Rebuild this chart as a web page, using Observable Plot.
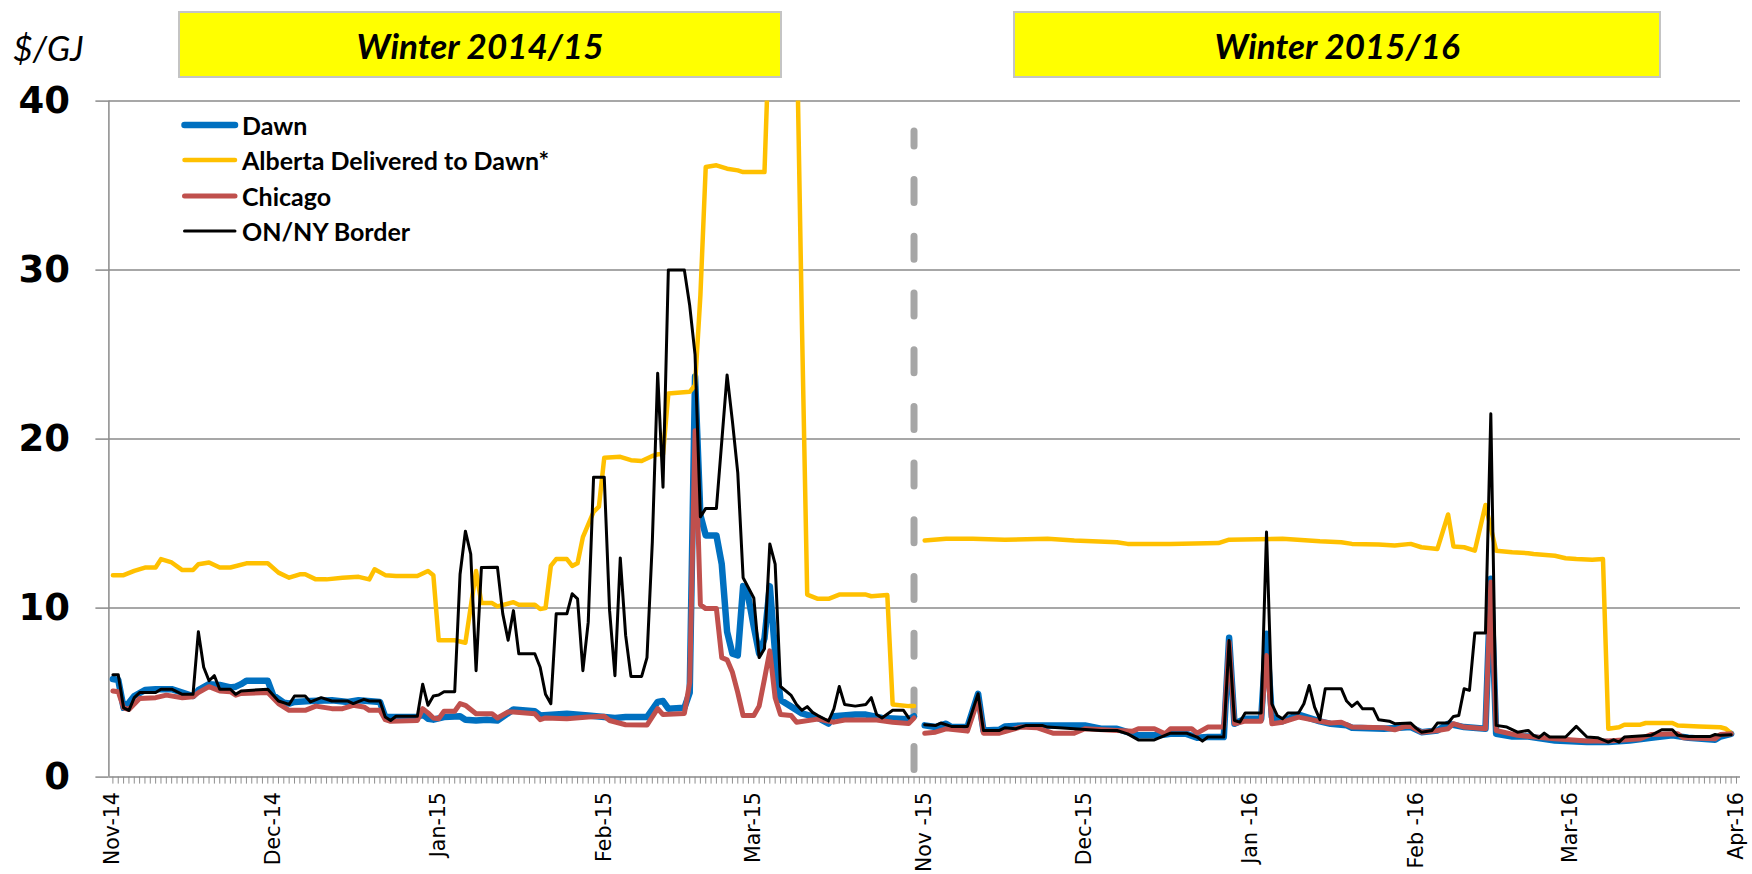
<!DOCTYPE html>
<html><head><meta charset="utf-8">
<script src="https://cdn.jsdelivr.net/npm/d3@7"></script>
<script src="https://cdn.jsdelivr.net/npm/@observablehq/plot@0.6"></script>
<style>
html,body{margin:0;padding:0;background:#fff;}
#wrap{position:relative;width:1752px;height:874px;overflow:hidden;}
#chart svg{display:block;}
.box{position:absolute;top:11px;height:67px;background:#ffff00;border:2px solid #c4c4c4;box-sizing:border-box;display:flex;align-items:center;justify-content:center;font:italic 700 35px Lato, sans-serif;color:#000;}
.unit{position:absolute;left:13px;top:31px;font:italic 400 34px Lato,sans-serif;line-height:1;color:#000;}
.legend{position:absolute;left:180px;top:107px;font:700 25px Lato,sans-serif;color:#000;}
.row{display:flex;align-items:center;height:35.5px;}
.row svg{display:block;margin-right:2px;}
</style></head><body><div id="wrap"><div id="chart"></div></div>
<script>
// ---- Data: [days since Nov 1 of each winter, $/GJ] ----
const winterTitles = ["Winter 2014/15", "Winter 2015/16"];
const seriesNames = ["Dawn", "Alberta Delivered to Dawn*", "Chicago", "ON/NY Border"];
const tickOffsets = [0, 30, 61, 92, 120, 152, 182, 213, 244, 273, 304];
const tickLabels = ["Nov-14", "Dec-14", "Jan-15", "Feb-15", "Mar-15", "Nov -15", "Dec-15", "Jan -16", "Feb -16", "Mar-16", "Apr-16"];
const yTicks = [0, 10, 20, 30, 40];
const winter1Days = 151;   // Nov 1 2014 .. Mar 31 2015
const winter2Start = 152;  // category index of Nov 1 2015
const categoryCount = 305;

const dawnW1 = [[0,5.8],[1,5.75],[2,4.1],[3,4.4],[4,4.8],[6,5.15],[8,5.2],[11,5.2],[13,5.0],[15,4.8],[16,5.15],[18,5.5],[20,5.45],[22,5.3],[23,5.35],[24,5.5],[25,5.7],[29,5.7],[30,4.85],[32,4.4],[33,4.35],[34,4.45],[37,4.5],[41,4.55],[44,4.45],[46,4.55],[50,4.45],[51,3.55],[57,3.55],[58,3.7],[59,3.45],[60,3.4],[62,3.55],[65,3.6],[66,3.4],[68,3.35],[70,3.4],[72,3.35],[75,4.0],[79,3.9],[80,3.65],[85,3.75],[89,3.65],[94,3.5],[96,3.55],[100,3.55],[102,4.45],[103,4.5],[104,4.05],[107,4.1],[108,5.0],[109,23.7],[110,15.5],[111,14.3],[113,14.3],[114,12.6],[115,8.6],[116,7.3],[117,7.2],[118,11.3],[119,10.6],[120,8.9],[121,7.3],[122,8.2],[123,11.3],[124,7.3],[125,4.56],[127,4.17],[129,3.77],[132,3.5],[134,3.17],[135,3.6],[139,3.7],[141,3.7],[144,3.5],[149,3.43],[150,3.6]];
const albertaW1 = [[0,11.95],[2,11.95],[4,12.2],[6,12.4],[8,12.4],[9,12.9],[11,12.7],[13,12.25],[15,12.25],[16,12.6],[18,12.7],[20,12.4],[22,12.4],[25,12.65],[29,12.65],[31,12.1],[33,11.8],[35,12.0],[36,12.0],[38,11.7],[40,11.7],[43,11.8],[46,11.85],[48,11.7],[49,12.3],[51,11.95],[53,11.9],[57,11.9],[59,12.2],[60,11.95],[61,8.1],[64,8.1],[66,7.95],[68,12.2],[69,10.3],[71,10.3],[72,10.1],[75,10.35],[76,10.2],[79,10.2],[80,9.95],[81,10.0],[82,12.5],[83,12.9],[85,12.9],[86,12.5],[87,12.65],[88,14.2],[90,15.7],[91,16.0],[92,18.9],[95,18.95],[97,18.75],[99,18.7],[101,19.0],[102,19.1],[103,19.1],[104,22.7],[108,22.8],[109,23.2],[110,28.5],[111,36.1],[113,36.2],[115,36.0],[117,35.9],[118,35.8],[122,35.8],[123,45],[128,45],[129,27],[130,10.8],[132,10.55],[134,10.55],[136,10.8],[141,10.8],[142,10.7],[145,10.77],[146,4.3],[149,4.2],[150,4.2]];
const chicagoW1 = [[0,5.1],[1,5.05],[2,4.1],[3,4.0],[5,4.65],[8,4.7],[10,4.85],[13,4.7],[15,4.75],[16,5.0],[18,5.35],[20,5.1],[22,5.05],[23,4.85],[24,4.95],[29,5.0],[31,4.35],[33,3.95],[36,3.95],[38,4.2],[41,4.05],[43,4.05],[45,4.25],[47,4.15],[48,3.95],[50,3.95],[51,3.4],[52,3.3],[57,3.35],[58,4.05],[59,3.8],[60,3.5],[61,3.45],[62,3.9],[64,3.9],[65,4.35],[66,4.25],[68,3.75],[71,3.75],[72,3.5],[74,3.85],[75,3.85],[79,3.75],[80,3.4],[81,3.5],[85,3.45],[89,3.55],[92,3.6],[93,3.35],[96,3.1],[100,3.08],[102,4.05],[103,3.7],[107,3.77],[108,5.6],[109,20.5],[110,10.2],[111,9.97],[113,9.97],[114,7.07],[115,6.94],[116,6.2],[117,5.0],[118,3.64],[120,3.64],[121,4.2],[122,5.8],[123,7.47],[124,4.7],[125,3.7],[127,3.64],[128,3.25],[132,3.43],[135,3.25],[137,3.38],[143,3.38],[146,3.25],[149,3.17],[150,3.5]];
const borderW1 = [[0,6.05],[1,6.05],[2,4.1],[3,3.95],[4,4.7],[5,5.0],[8,5.0],[9,5.2],[11,5.2],[13,4.9],[15,4.9],[16,8.6],[17,6.5],[18,5.7],[19,6.0],[20,5.2],[22,5.2],[23,4.9],[24,5.1],[29,5.2],[31,4.5],[33,4.3],[34,4.8],[36,4.8],[37,4.45],[39,4.7],[41,4.5],[44,4.5],[45,4.35],[47,4.6],[48,4.5],[50,4.5],[51,3.55],[52,3.35],[53,3.6],[57,3.6],[58,5.5],[59,4.25],[60,4.8],[61,4.86],[62,5.05],[64,5.05],[65,12.0],[66,14.55],[67,13.2],[68,6.3],[69,12.4],[72,12.42],[73,9.66],[74,8.1],[75,9.85],[76,7.3],[79,7.3],[80,6.5],[81,4.9],[82,4.34],[83,9.66],[85,9.66],[86,10.85],[87,10.55],[88,6.3],[89,9.17],[90,17.75],[92,17.75],[93,9.85],[94,6.0],[95,12.97],[96,8.4],[97,5.96],[99,5.96],[100,7.07],[101,13.9],[102,23.9],[103,17.15],[104,30.0],[107,30.0],[108,27.9],[109,25.0],[110,15.4],[111,15.9],[113,15.9],[115,23.8],[116,21.05],[117,18.0],[118,11.8],[120,10.6],[121,7.07],[122,7.6],[123,13.8],[124,12.6],[125,5.36],[127,4.83],[128,4.3],[129,3.96],[130,4.17],[131,3.83],[132,3.64],[134,3.32],[135,4.04],[136,5.36],[137,4.3],[139,4.2],[141,4.3],[142,4.7],[143,3.7],[144,3.5],[146,3.96],[148,3.96],[149,3.5]];

const dawnW2 = [[0,3.06],[2,2.96],[4,3.16],[5,2.96],[8,2.96],[10,4.93],[11,2.76],[14,2.8],[15,3.0],[19,3.06],[30,3.06],[33,2.86],[36,2.86],[38,2.66],[40,2.47],[44,2.47],[46,2.56],[49,2.56],[51,2.33],[53,2.37],[56,2.37],[57,8.24],[58,3.16],[60,3.45],[63,3.45],[64,8.48],[65,3.55],[67,3.31],[70,3.7],[74,3.3],[76,3.15],[79,3.06],[80,2.92],[86,2.86],[91,2.96],[93,2.66],[96,2.76],[98,3.16],[101,2.96],[105,2.86],[106,11.73],[107,2.56],[110,2.4],[113,2.4],[118,2.17],[124,2.07],[128,2.07],[132,2.17],[136,2.33],[140,2.47],[143,2.33],[148,2.21],[149,2.4],[151,2.56]];
const albertaW2 = [[0,14.0],[4,14.1],[9,14.1],[15,14.05],[23,14.1],[28,14.0],[36,13.9],[38,13.8],[46,13.8],[55,13.85],[57,14.05],[67,14.1],[74,13.95],[78,13.9],[80,13.8],[85,13.77],[88,13.7],[91,13.8],[93,13.6],[96,13.5],[98,15.54],[99,13.65],[101,13.6],[103,13.4],[105,16.1],[107,13.4],[110,13.3],[113,13.25],[114,13.2],[118,13.1],[120,12.95],[122,12.9],[125,12.86],[127,12.9],[128,2.86],[130,2.95],[131,3.1],[134,3.1],[135,3.2],[140,3.2],[141,3.05],[145,3.0],[149,2.95],[150,2.86],[151,2.6]];
const chicagoW2 = [[0,2.6],[2,2.66],[4,2.86],[8,2.72],[10,4.6],[11,2.6],[14,2.6],[18,2.96],[21,2.92],[24,2.6],[28,2.6],[30,2.86],[36,2.76],[39,2.72],[40,2.86],[43,2.86],[45,2.56],[46,2.86],[50,2.86],[51,2.6],[53,2.96],[56,2.96],[57,7.99],[58,3.16],[60,3.31],[63,3.31],[64,7.2],[65,3.16],[67,3.25],[70,3.55],[74,3.3],[76,3.2],[78,3.25],[80,2.96],[86,2.92],[88,2.8],[90,3.0],[91,3.0],[93,2.66],[96,2.76],[98,2.86],[99,3.16],[101,2.96],[105,2.86],[106,11.54],[107,2.76],[111,2.47],[118,2.27],[124,2.13],[128,2.13],[134,2.27],[136,2.52],[141,2.56],[142,2.33],[148,2.27],[149,2.52],[151,2.56]];
const borderW2 = [[0,3.1],[2,3.05],[3,3.2],[5,3.0],[8,3.0],[10,4.93],[11,2.76],[14,2.76],[15,2.92],[17,2.86],[19,3.06],[22,3.06],[23,2.96],[33,2.76],[36,2.76],[38,2.56],[40,2.2],[43,2.2],[46,2.6],[49,2.6],[51,2.37],[52,2.13],[53,2.37],[56,2.37],[57,8.08],[58,3.35],[59,3.25],[60,3.79],[63,3.79],[64,14.5],[65,4.34],[66,3.65],[67,3.45],[68,3.79],[70,3.79],[71,4.34],[72,5.42],[73,4.14],[74,3.4],[75,5.23],[78,5.23],[79,4.5],[80,4.18],[81,4.44],[82,4.04],[84,4.04],[85,3.39],[87,3.31],[88,3.16],[91,3.2],[92,2.9],[93,2.66],[95,2.76],[96,3.2],[98,3.2],[99,3.59],[100,3.65],[101,5.23],[102,5.13],[103,8.52],[105,8.52],[106,21.5],[107,3.06],[109,2.96],[111,2.66],[113,2.76],[114,2.47],[115,2.33],[116,2.6],[117,2.37],[120,2.37],[122,3.0],[124,2.37],[126,2.33],[128,2.07],[129,2.21],[130,2.07],[131,2.37],[136,2.47],[138,2.8],[140,2.8],[141,2.47],[143,2.4],[147,2.4],[148,2.52],[149,2.47],[151,2.5]];

// ---- Build table ----
const series = [
  {name: seriesNames[0], w1: dawnW1, w2: dawnW2, color: "#0070C0", width: 6.5},
  {name: seriesNames[1], w1: albertaW1, w2: albertaW2, color: "#FFC000", width: 4.5},
  {name: seriesNames[2], w1: chicagoW1, w2: chicagoW2, color: "#C0504D", width: 5},
  {name: seriesNames[3], w1: borderW1, w2: borderW2, color: "#000000", width: 3}
];
function rowsOf(s) {
  const r = [];
  for (const [o, v] of s.w1) r.push({seg: "w1", idx: o, value: v});
  for (const [o, v] of s.w2) r.push({seg: "w2", idx: winter2Start + o, value: v});
  return r;
}
const xDomain = [-0.75, categoryCount - 0.25];
const allIdx = d3.range(categoryCount);
const dividerIdx = winter1Days - 1;
const labelOf = new Map(tickOffsets.map((t, i) => [t, tickLabels[i]]));
const grey = "#8a8a8a";

const chart = Plot.plot({
  width: 1752, height: 874,
  marginTop: 100.6, marginBottom: 97.4, marginLeft: 108.4, marginRight: 12,
  x: {type: "linear", domain: xDomain, axis: null, label: null},
  y: {domain: [0, 40], axis: null, label: null},
  style: {background: "transparent", fontFamily: "'DejaVu Sans', sans-serif"},
  marks: [
    Plot.gridY(yTicks.filter(d => d > 0), {stroke: grey, strokeOpacity: 1, strokeWidth: 1.5}),
    Plot.axisY(yTicks, {anchor: "left", tickSize: 13, tickPadding: 26, stroke: grey, strokeWidth: 1.5, fill: "#000", fontSize: 37, fontWeight: "bold", label: null}),
    Plot.ruleX([xDomain[0]], {stroke: grey, strokeWidth: 1.5}),
    Plot.axisX(allIdx, {anchor: "bottom", tickSize: 7, fill: "none", stroke: "#8f8f8f", strokeWidth: 1, label: null}),
    Plot.ruleY([0], {stroke: grey, strokeWidth: 1.5}),
    Plot.axisX(tickOffsets, {anchor: "bottom", tickSize: 0, tickPadding: 15, tickRotate: -90, tickFormat: d => labelOf.get(d), fontSize: 20.5, fill: "#000", label: null}),
    Plot.ruleX([dividerIdx], {y1: 0, y2: 38.2, stroke: "#a6a6a6", strokeWidth: 7, strokeDasharray: "23 33.7", strokeDashoffset: 49.7, strokeLinecap: "round"}),
    ...series.map(s => Plot.line(rowsOf(s), {x: "idx", y: "value", z: "seg", stroke: s.color, strokeWidth: s.width, strokeLinejoin: "round", strokeLinecap: "round", clip: true}))
  ]
});
const wrap = document.getElementById("wrap");
document.getElementById("chart").appendChild(chart);

// ---- Overlays: unit, winter boxes, legend ----
const unit = document.createElement("div");
unit.className = "unit"; unit.textContent = "$/GJ";
wrap.appendChild(unit);
const boxPos = [[178, 604], [1013, 648]];
winterTitles.forEach((t, i) => {
  const b = document.createElement("div");
  b.className = "box"; b.textContent = t;
  b.style.left = boxPos[i][0] + "px"; b.style.width = boxPos[i][1] + "px";
  wrap.appendChild(b);
});
const legend = document.createElement("div");
legend.className = "legend";
for (const s of series) {
  const row = document.createElement("div");
  row.className = "row";
  row.innerHTML = `<svg width="60" height="12"><line x1="4.5" y1="6" x2="55" y2="6" stroke="${s.color}" stroke-width="${s.width}" stroke-linecap="round"/></svg><span>${s.name}</span>`;
  legend.appendChild(row);
}
wrap.appendChild(legend);
</script></body></html>
